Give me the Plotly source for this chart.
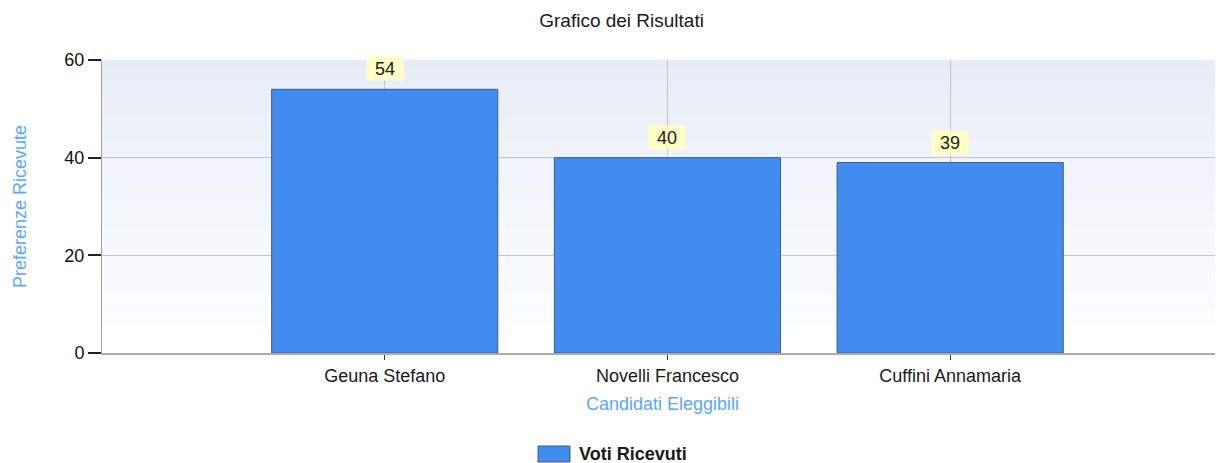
import plotly.graph_objects as go

categories = ["Geuna Stefano", "Novelli Francesco", "Cuffini Annamaria"]
votes = [54, 40, 39]
y_ticks = [0, 20, 40, 60]
series_name = "Voti Ricevuti"

FONT = "Liberation Sans"
BLUE_TXT = "#5aa8ff"
W, H = 1215, 455          # page has an 8px body margin
L, T, B = 94, 52, 110
PW, PH = W - L, H - T - B

fig = go.Figure()
fig.add_trace(go.Bar(
    x=list(range(len(categories))), y=votes, name=series_name,
    width=0.8,
    marker=dict(color="#418cf0", line=dict(color="#4a5a78", width=1)),
    showlegend=False,
))

# gradient plot background (bands)
n = 40
top = (231, 237, 247)
bot = (255, 255, 255)
shapes = []
for i in range(n):
    t = i / (n - 1)
    c = tuple(round(bot[k] + (top[k] - bot[k]) * t) for k in range(3))
    shapes.append(dict(type="rect", xref="paper", yref="paper",
                       x0=0, x1=1, y0=i / n, y1=(i + 1) / n + 0.002,
                       fillcolor="rgb(%d,%d,%d)" % c, line=dict(width=0),
                       layer="below"))

def px_x(xp):  # page px -> paper x
    return (xp - 8 - L) / PW

def px_y(yp):  # page px -> paper y
    return (T + PH - (yp - 8)) / PH

# legend swatch
shapes.append(dict(type="rect", xref="paper", yref="paper",
                   x0=px_x(538), x1=px_x(570), y0=px_y(462), y1=px_y(446),
                   fillcolor="#418cf0", line=dict(color="#4a5a78", width=1)))

annotations = []
for i, v in enumerate(votes):
    annotations.append(dict(x=i, y=v, xref="x", yref="y", text=str(v),
                            showarrow=False, yanchor="bottom", yshift=8,
                            bgcolor="#ffffc6", borderpad=1, width=34, height=21,
                            font=dict(family=FONT, size=18, color="#1a1a1a")))
annotations.append(dict(x=px_x(577), y=px_y(454), xref="paper", yref="paper",
                        text="<b>" + series_name + "</b>", showarrow=False,
                        xanchor="left", yanchor="middle",
                        font=dict(family=FONT, size=18, color="#1a1a1a")))

fig.update_layout(
    width=W, height=H,
    margin=dict(l=L, r=0, t=T, b=B),
    paper_bgcolor="white", plot_bgcolor="rgba(0,0,0,0)",
    title=dict(text="Grafico dei Risultati", x=0.505, xref="container", y=1 - 12 / H,
               yanchor="middle", xanchor="center",
               font=dict(family=FONT, size=19, color="#1a1a1a")),
    xaxis=dict(range=[-1, 2.965], tickvals=list(range(len(categories))),
               ticktext=categories, showgrid=True, gridcolor="#c4c4c4", gridwidth=1,
               zeroline=False, showline=True, linecolor="#ababab", linewidth=2,
               ticks="outside", ticklen=5, tickcolor="#333", tickwidth=1,
               tickfont=dict(family=FONT, size=18, color="#1a1a1a"),
               title=dict(text="Candidati Eleggibili", standoff=13,
                          font=dict(family=FONT, size=18, color=BLUE_TXT))),
    yaxis=dict(range=[0, 60], tickvals=y_ticks, showgrid=True, gridcolor="#c4c4c4",
               gridwidth=1, zeroline=False, showline=True, linecolor="#a0a0a0",
               linewidth=1, ticks="outside", ticklen=13, tickcolor="#222", tickwidth=2,
               tickfont=dict(family=FONT, size=18, color="#111"),
               title=dict(text="Preferenze Ricevute", standoff=33,
                          font=dict(family=FONT, size=18, color=BLUE_TXT))),
    shapes=shapes, annotations=annotations, showlegend=False,
)

fig.write_html("out.html")
